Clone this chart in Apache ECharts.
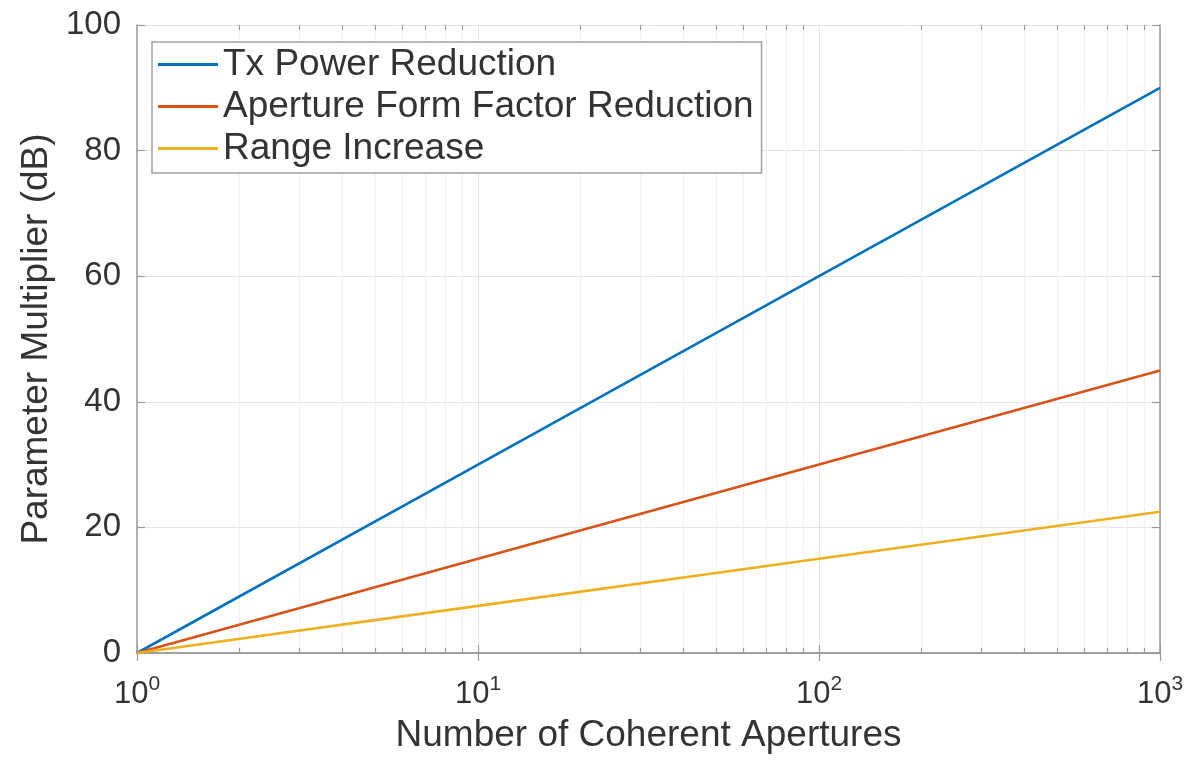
<!DOCTYPE html>
<html>
<head>
<meta charset="utf-8">
<script src="https://cdn.jsdelivr.net/npm/echarts@6/dist/echarts.min.js"></script>
<style>
html,body{margin:0;padding:0;background:#fff;}
#chart{width:1195px;height:760px;}
</style>
</head>
<body>
<div id="chart"></div>
<script>
// Data
const apertures = [1, 10, 100, 1000];
const txPowerReduction = [0, 30, 60, 90];
const apertureFormFactorReduction = [0, 15, 30, 45];
const rangeIncrease = [0, 7.5, 15, 22.5];
const seriesNames = ['Tx Power Reduction', 'Aperture Form Factor Reduction', 'Range Increase'];
const yTicks = [0, 20, 40, 60, 80, 100];
const xDecades = [1, 10, 100, 1000];

const font = 'Liberation Sans, Arial, sans-serif';
const textColor = '#333';
const axisColor = '#9a9a9a';

// minor tick positions of the log axis (2..9 in each decade)
const minorVals = [];
for (let d = 0; d < xDecades.length - 1; d++) {
  for (let k = 2; k <= 9; k++) minorVals.push(xDecades[d] * k);
}

const minorGrid = minorVals.map(v => ({xAxis: v}));
const minorTicks = [];
minorVals.forEach(v => {
  minorTicks.push([{coord: [v, 0]}, {coord: [v, 0.8]}]);
  minorTicks.push([{coord: [v, 100]}, {coord: [v, 99.2]}]);
});

function pairs(ys) { return apertures.map((x, i) => [x, ys[i]]); }

const chart = echarts.init(document.getElementById('chart'));
const supLabel = function (v) {
  const e = Math.round(Math.log10(v));
  return '{b|10}{s|' + e + '}';
};
const xCommon = {
  type: 'log', logBase: 10, min: 1, max: 1000,
  axisLine: {show: true, lineStyle: {color: axisColor, width: 1.5}},
  axisTick: {show: true, inside: true, length: 8, lineStyle: {color: axisColor, width: 1.2}},
};
chart.setOption({
  animation: false,
  backgroundColor: '#fff',
  grid: {left: 137, right: 35, top: 25, bottom: 107, containLabel: false},
  legend: {
    orient: 'vertical', left: 152, top: 42, z: 100,
    data: seriesNames,
    icon: 'rect', itemWidth: 60, itemHeight: 3, itemGap: 5,
    padding: [4, 8, 6, 6],
    borderColor: '#a0a0a0', borderWidth: 1.5, backgroundColor: '#fff',
    textStyle: {fontFamily: font, fontSize: 37, color: textColor}
  },
  xAxis: [
    Object.assign({}, xCommon, {
      position: 'bottom',
      name: 'Number of Coherent Apertures', nameLocation: 'middle', nameGap: 64,
      nameTextStyle: {fontFamily: font, fontSize: 37, color: textColor},
      splitLine: {show: true, lineStyle: {color: '#e4e4e4', width: 1}},
      axisLabel: {
        show: true, margin: 21, formatter: supLabel,
        rich: {
          b: {fontFamily: font, fontSize: 31, color: textColor, verticalAlign: 'bottom', lineHeight: 36},
          s: {fontFamily: font, fontSize: 21, color: textColor, verticalAlign: 'top', lineHeight: 36, padding: [0, 0, 14, 0]}
        }
      }
    }),
    Object.assign({}, xCommon, {
      position: 'top', axisLabel: {show: false}, splitLine: {show: false}
    })
  ],
  yAxis: [
    {
      type: 'value', min: 0, max: 100, interval: 20, position: 'left',
      name: 'Parameter Multiplier (dB)', nameLocation: 'middle', nameGap: 82,
      nameTextStyle: {fontFamily: font, fontSize: 37, color: textColor},
      axisLine: {show: true, lineStyle: {color: axisColor, width: 1.5}},
      axisTick: {show: true, inside: true, length: 8, lineStyle: {color: axisColor, width: 1.2}},
      splitLine: {show: true, lineStyle: {color: '#e4e4e4', width: 1}},
      axisLabel: {margin: 16, fontFamily: font, fontSize: 33, color: textColor,
        formatter: v => yTicks.indexOf(v) >= 0 ? String(v) : ''}
    },
    {
      type: 'value', min: 0, max: 100, interval: 20, position: 'right',
      axisLine: {show: true, lineStyle: {color: axisColor, width: 1.5}},
      axisTick: {show: true, inside: true, length: 8, lineStyle: {color: axisColor, width: 1.2}},
      splitLine: {show: false}, axisLabel: {show: false}
    }
  ],
  series: [
    {
      name: 'minor', type: 'line', data: [], z: 1, silent: true,
      markLine: {
        silent: true, symbol: 'none', label: {show: false}, animation: false,
        lineStyle: {color: '#f0f0f0', width: 1, type: 'solid'},
        data: minorGrid
      }
    },
    {
      name: 'minorTicks', type: 'line', data: [], z: 3, silent: true,
      markLine: {
        silent: true, symbol: 'none', label: {show: false}, animation: false,
        lineStyle: {color: axisColor, width: 1.2, type: 'solid'},
        data: minorTicks
      }
    },
    {name: seriesNames[0], type: 'line', data: pairs(txPowerReduction), showSymbol: false, z: 5,
      lineStyle: {color: '#0072BD', width: 2.6}, itemStyle: {color: '#0072BD'}},
    {name: seriesNames[1], type: 'line', data: pairs(apertureFormFactorReduction), showSymbol: false, z: 5,
      lineStyle: {color: '#D95319', width: 2.6}, itemStyle: {color: '#D95319'}},
    {name: seriesNames[2], type: 'line', data: pairs(rangeIncrease), showSymbol: false, z: 5,
      lineStyle: {color: '#EDB120', width: 2.6}, itemStyle: {color: '#EDB120'}}
  ]
});
</script>
</body>
</html>
